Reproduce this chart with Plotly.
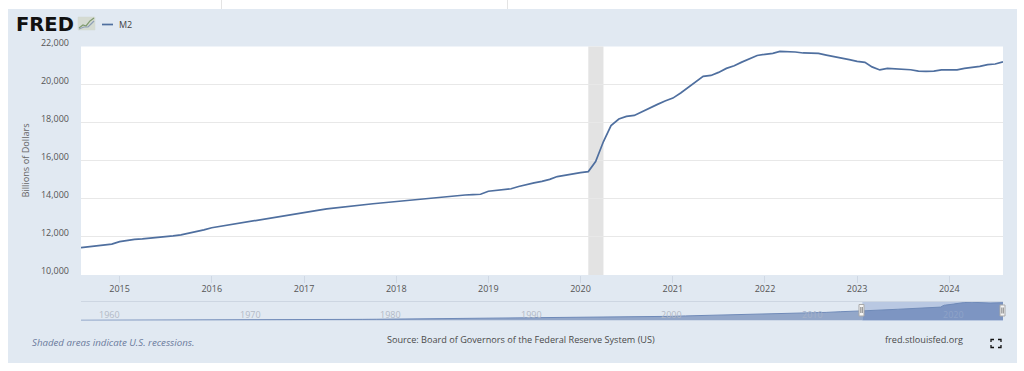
import pandas as pd
import plotly.graph_objects as go

W, H = 1024, 371
def px(x): return x / W
def py(y): return 1 - y / H

# Data
months = pd.date_range("2014-08-01", "2024-08-01", freq="MS")
m2_values = [
    11440, 11480, 11530, 11570, 11620,
    11750, 11820, 11875, 11900, 11930, 11960, 12000, 12050, 12110, 12190, 12270, 12370,
    12480, 12550, 12610, 12680, 12750, 12810, 12880, 12950, 13020, 13090, 13170, 13230,
    13310, 13350, 13410, 13470, 13520, 13550, 13590, 13640, 13690, 13740, 13780, 13820,
    13860, 13880, 13920, 13970, 13990, 14040, 14090, 14130, 14170, 14200, 14220, 14240,
    14400, 14440, 14480, 14530, 14650, 14760, 14840, 14920, 15020, 15170, 15250, 15320,
    15380, 15430, 15960, 17010, 17850, 18190, 18330, 18380, 18590, 18770, 18960, 19140,
    19290, 19560, 19820, 20130, 20430, 20480, 20640, 20850, 20990, 21180, 21350, 21530,
    21590, 21640, 21740, 21740, 21710, 21660, 21660, 21640, 21550, 21480, 21410, 21310,
    21220, 21170, 20930, 20770, 20850, 20830, 20810, 20780, 20710, 20690, 20710, 20770,
    20770, 20770, 20850, 20890, 20960, 21050, 21080, 21190,
]
history_years = list(range(1959, 2015))
history_values = [
    286, 298, 313, 335, 362, 390, 420, 450, 475, 525, 570, 590, 640, 710, 800, 860, 920, 1020,
    1140, 1250, 1370, 1480, 1600, 1760, 1940, 2130, 2300, 2500, 2730, 2850, 3000, 3170, 3320,
    3420, 3420, 3470, 3490, 3640, 3830, 4040, 4420, 4660, 4960, 5450, 5800, 6070, 6420, 6680,
    7080, 7500, 8240, 8500, 8800, 9660, 10450, 11000,
]
recession = ("2020-02-01", "2020-04-01")
selection = ("2014-08-01", "2024-08-01")
nav_labels = [1960, 1970, 1980, 1990, 2000, 2010, 2020]
nav_label_colors = ["#b3bac6", "#b3bac6", "#b3bac6", "#b3bac6", "#b3bac6", "#a5b1c8", "#8fa3c8"]

FONT = "Open Sans"
TEXT = "#555555"
PANEL = "#e1e9f2"
LINE = "#4f6f9f"

hist_dates = pd.to_datetime([f"{y}-01-01" for y in history_years])

fig = go.Figure()
fig.add_trace(go.Scatter(x=months, y=m2_values, mode="lines", name="M2",
                         line=dict(color=LINE, width=1.7), xaxis="x", yaxis="y",
                         showlegend=False))
fig.add_trace(go.Scatter(x=list(hist_dates) + [months[0]], y=history_values + [m2_values[0]],
                         mode="lines", fill="tozeroy", fillcolor="#93a7c9",
                         line=dict(color="#6f8ab8", width=1), xaxis="x2", yaxis="y2",
                         showlegend=False))
fig.add_trace(go.Scatter(x=months, y=m2_values, mode="lines", fill="tozeroy", fillcolor="#7d95c2",
                         line=dict(color="#6f8ab8", width=1), xaxis="x2", yaxis="y2",
                         showlegend=False))

def rect(x0, y0, x1, y1, fill, line=None, lw=0, layer="below"):
    return dict(type="rect", xref="paper", yref="paper", x0=px(x0), x1=px(x1), y0=py(y0), y1=py(y1),
                fillcolor=fill, line=dict(color=line or fill, width=lw), layer=layer)

def pline(x0, y0, x1, y1, color, w=1, layer="above"):
    return dict(type="line", xref="paper", yref="paper", x0=px(x0), x1=px(x1), y0=py(y0), y1=py(y1),
                line=dict(color=color, width=w), layer=layer)

def path(points, color, w=1, fill=None):
    d = "M " + " L ".join(f"{px(a):.5f},{py(b):.5f}" for a, b in points)
    return dict(type="path", xref="paper", yref="paper", path=d,
                line=dict(color=color, width=w), fillcolor=fill, layer="above")

shapes = [
    rect(8, 9, 1017, 363, PANEL),
    rect(81, 46.5, 1003, 275, "#ffffff"),
    pline(221.5, 0, 221.5, 9, "#e4e4e4"),
    pline(507.5, 0, 507.5, 9, "#e4e4e4"),
    pline(81, 301.5, 1003, 301.5, "#cdd6e2"),
    dict(type="rect", xref="x", yref="y domain", x0=recession[0], x1=recession[1], y0=0, y1=1,
         fillcolor="#e3e3e3", line=dict(width=0), layer="below"),
    dict(type="rect", xref="x2", yref="y2 domain", x0=selection[0], x1=selection[1], y0=0, y1=1,
         fillcolor="#b9c8e2", line=dict(width=0), layer="below"),
    # legend sample
    pline(102, 24.5, 113, 24.5, LINE, 1.7),
    # navigator handles
    rect(859, 304.5, 864, 316, "#f4f4f4", "#a9a9a9", 1, "above"),
    pline(860.8, 307, 860.8, 313, "#888888"), pline(862.3, 307, 862.3, 313, "#888888"),
    rect(1000, 305, 1005, 316, "#f4f4f4", "#a9a9a9", 1, "above"),
    pline(1001.8, 307.5, 1001.8, 313.5, "#888888"), pline(1003.3, 307.5, 1003.3, 313.5, "#888888"),
    # logo sparkline
    path([(78, 30), (95, 30), (95, 17), (78, 17), (78, 30)], "#d5dbd2", 0.5, "#d5dbd2"),
    path([(79, 28), (83, 25), (86, 26), (90, 21), (94, 18)], "#7f9a6e", 1.2),
    path([(79, 29), (84, 27), (88, 27), (91, 24), (94, 21)], "#8e9fb6", 1.2),
    # fullscreen icon
    path([(991, 342), (991, 339.5), (994, 339.5)], "#111111", 1.3),
    path([(998, 339.5), (1001, 339.5), (1001, 342)], "#111111", 1.3),
    path([(991, 345), (991, 347.5), (994, 347.5)], "#111111", 1.3),
    path([(998, 347.5), (1001, 347.5), (1001, 345)], "#111111", 1.3),
]

def note(x, y, text, size=9, color=TEXT, anchor="left", **kw):
    return dict(xref="paper", yref="paper", x=px(x), y=py(y), text=text, showarrow=False,
                xanchor=anchor, yanchor="middle", font=dict(family=kw.pop("family", FONT), size=size, color=color), **kw)

annotations = [
    note(13.5, 25, "<b>FRED</b>", 19.5, "#111111", family="DejaVu Sans"),
    note(117, 24.5, "M2", 9, "#444444"),
    note(24.5, 161, "Billions of Dollars", 9.2, "#666666", "center", textangle=-90),
    note(30, 342, "<i>Shaded areas indicate U.S. recessions.</i>", 9.7, "#6a7a9c"),
    note(385, 339, "Source: Board of Governors of the Federal Reserve System (US)", 9.15, "#4a4a4a"),
    note(883, 339, "fred.stlouisfed.org", 9.15, "#4a4a4a"),
]
for yr, col in zip(nav_labels, nav_label_colors):
    annotations.append(dict(xref="x2", yref="paper", x=f"{yr}-01-01", y=py(314), text=str(yr),
                            showarrow=False, xanchor="left", yanchor="middle", xshift=2,
                            font=dict(family=FONT, size=9, color=col)))

fig.update_layout(
    width=W, height=H, margin=dict(l=0, r=0, t=0, b=0),
    paper_bgcolor="#ffffff", plot_bgcolor="rgba(0,0,0,0)", showlegend=False,
    shapes=shapes, annotations=annotations,
    xaxis=dict(domain=[px(81), px(1003)], range=["2014-08-01", "2024-08-01"], type="date",
               tick0="2015-01-01", dtick="M12", tickformat="%Y", showgrid=False, zeroline=False,
               showline=False, ticks="outside", ticklen=7, tickcolor="#cfd8e4", tickwidth=1,
               ticklabelstandoff=-2,
               tickfont=dict(family=FONT, size=9, color=TEXT), anchor="y", automargin=False),
    yaxis=dict(domain=[py(275), py(46.5)], range=[10000, 22000], dtick=2000, tickformat=",d",
               showgrid=True, gridcolor="#e8e8e8", gridwidth=1, zeroline=False, showline=False,
               ticks="", ticklabelstandoff=11, ticklabelshift=-4,
               tickfont=dict(family=FONT, size=9, color=TEXT), anchor="x", automargin=False),
    xaxis2=dict(domain=[px(81), px(1003)], range=["1959-01-01", "2024-08-01"], type="date",
                showticklabels=False, ticks="", showgrid=False, zeroline=False, showline=False,
                anchor="y2", automargin=False),
    yaxis2=dict(domain=[py(320.5), py(302)], range=[0, 22000], showticklabels=False, ticks="",
                showgrid=False, zeroline=False, showline=False, anchor="x2", automargin=False),
)

fig.write_html("out.html", config=dict(displayModeBar=False),
               post_script="document.body.style.margin='0';document.body.style.overflow='hidden';")
